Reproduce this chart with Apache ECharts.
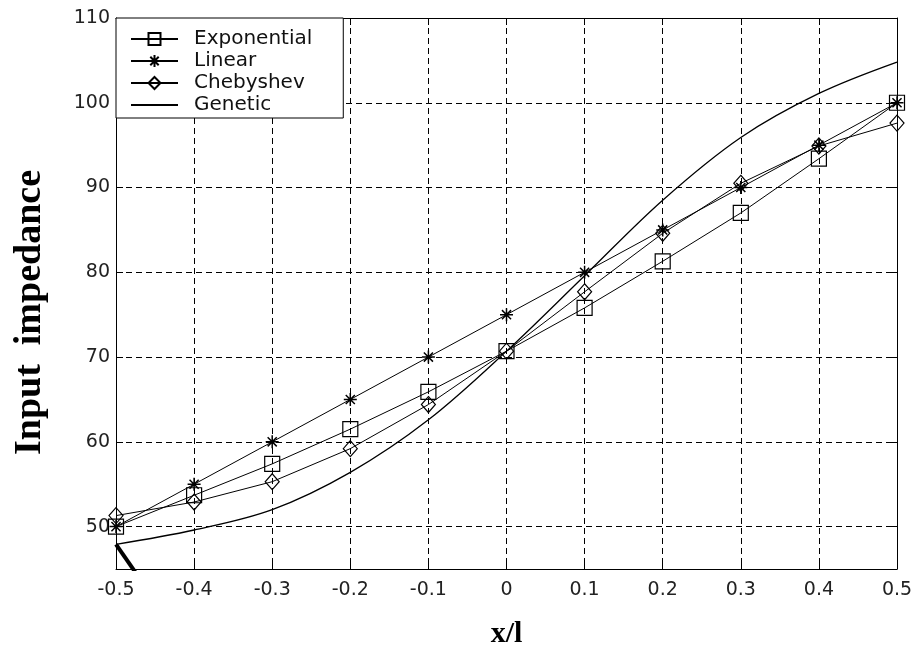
<!DOCTYPE html>
<html>
<head>
<meta charset="utf-8">
<script src="https://cdn.jsdelivr.net/npm/echarts@6/dist/echarts.min.js"></script>
<style>
html,body{margin:0;padding:0;background:#fff;}
#chart{width:917px;height:654px;}
</style>
</head>
<body>
<div id="chart"></div>
<script>
// x positions (x/l)
const xValues = [-0.5, -0.4, -0.3, -0.2, -0.1, 0, 0.1, 0.2, 0.3, 0.4, 0.5];
// series values
const exponential = [50.0, 53.7, 57.4, 61.5, 65.9, 70.7, 75.8, 81.3, 87.0, 93.4, 100.0];
const linear      = [50.0, 55.0, 60.0, 65.0, 70.0, 75.0, 80.0, 85.0, 90.0, 95.0, 100.0];
const chebyshev   = [51.3, 52.9, 55.3, 59.2, 64.4, 70.7, 77.7, 84.6, 90.5, 94.9, 97.6];
const genetic     = [47.9, 49.6, 52.0, 56.4, 62.6, 70.7, 79.6, 88.5, 95.9, 101.1, 104.8];
// short thick segment at lower-left corner
const thickX = [-0.5, -0.46];
const thickY = [47.9, 42.6];

const seriesNames = ['Exponential', 'Linear', 'Chebyshev', 'Genetic'];
const yTickLabels = [50, 60, 70, 80, 90, 100, 110];

function pairs(xs, ys){ return xs.map((x,i)=>[x, ys[i]]); }

const starPath = 'path://M0,-10L0,10M-10,0L10,0M-7,-7L7,7M-7,7L7,-7';
const labelFont = 'DejaVu Sans';
const black = '#000';

const chart = echarts.init(document.getElementById('chart'), null, {renderer:'canvas'});

const baseLine = {type:'line', color: black, lineStyle:{color:black, width:1}};

const option = {
  backgroundColor: '#fff',
  animation: false,
  grid: {left:116, right:20, top:18, bottom:85, containLabel:false},
  legend: {
    data: [
      {name: seriesNames[0]},
      {name: seriesNames[1]},
      {name: seriesNames[2]},
      {name: seriesNames[3], itemStyle:{opacity:0}}
    ],
    orient: 'vertical',
    left: 116, top: 18,
    backgroundColor: '#fff',
    borderColor: black, borderWidth: 1,
    padding: [11, 31, 3, 14],
    itemWidth: 47, itemHeight: 15, itemGap: 2,
    textStyle: {fontFamily: labelFont, fontSize: 20, color: '#111', lineHeight: 20, padding:[0,0,0,11]},
    z: 10
  },
  xAxis: [{
    type:'value', min:-0.5, max:0.5, interval:0.1, position:'bottom',
    name:'x/l', nameLocation:'middle', nameGap:50,
    nameTextStyle:{fontFamily:'Liberation Serif', fontWeight:'bold', fontSize:30, color:black},
    axisLine:{show:true, onZero:false, lineStyle:{color:black, width:1}},
    axisTick:{show:true, inside:true, length:7, lineStyle:{color:black}},
    axisLabel:{fontFamily:labelFont, fontSize:19, color:'#222', margin:12},
    splitLine:{show:true, lineStyle:{color:black, type:[6,4], width:1}}
  },{
    type:'value', min:-0.5, max:0.5, interval:0.1, position:'top',
    axisLine:{show:true, onZero:false, lineStyle:{color:black, width:1}},
    axisTick:{show:true, inside:true, length:7, lineStyle:{color:black}},
    axisLabel:{show:false}, splitLine:{show:false}
  }],
  yAxis: [{
    type:'value', min:45, max:110, splitNumber:6, position:'left',
    name:'Input  impedance', nameLocation:'middle', nameGap:67, nameRotate:90,
    nameTextStyle:{fontFamily:'Liberation Serif', fontWeight:'bold', fontSize:38, color:black, padding:[0,38,0,0]},
    axisLine:{show:true, onZero:false, lineStyle:{color:black, width:1}},
    axisTick:{show:true, inside:true, length:7, lineStyle:{color:black}},
    axisLabel:{fontFamily:labelFont, fontSize:19, color:'#222', margin:6, showMinLabel:false,
      formatter: v => yTickLabels.indexOf(v) >= 0 ? String(v) : ''},
    splitLine:{show:true, lineStyle:{color:black, type:[6,4], width:1}}
  },{
    type:'value', min:45, max:110, splitNumber:6, position:'right',
    axisLine:{show:true, onZero:false, lineStyle:{color:black, width:1}},
    axisTick:{show:true, inside:true, length:7, lineStyle:{color:black}},
    axisLabel:{show:false}, splitLine:{show:false}
  }],
  series: [
    Object.assign({}, baseLine, {
      name:'Exponential', data: pairs(xValues, exponential),
      symbol:'rect', symbolSize:15, showAllSymbol:true,
      itemStyle:{color:'rgba(0,0,0,0)', borderColor:black, borderWidth:1.2}
    }),
    Object.assign({}, baseLine, {
      name:'Linear', data: pairs(xValues, linear),
      symbol: starPath, symbolSize:13,
      itemStyle:{color:'rgba(0,0,0,0)', borderColor:black, borderWidth:1.5}
    }),
    Object.assign({}, baseLine, {
      name:'Chebyshev', data: pairs(xValues, chebyshev),
      symbol:'diamond', symbolSize:[14,16],
      itemStyle:{color:'rgba(0,0,0,0)', borderColor:black, borderWidth:1.2}
    }),
    Object.assign({}, baseLine, {
      name:'Genetic', data: pairs(xValues, genetic),
      symbol:'none', smooth:0.35, lineStyle:{color:black, width:1.3}
    }),
    {
      name:'edge', type:'line', data: pairs(thickX, thickY), symbol:'none',
      lineStyle:{color:black, width:4}, clip:true, silent:true
    }
  ]
};
chart.setOption(option);
</script>
</body>
</html>
